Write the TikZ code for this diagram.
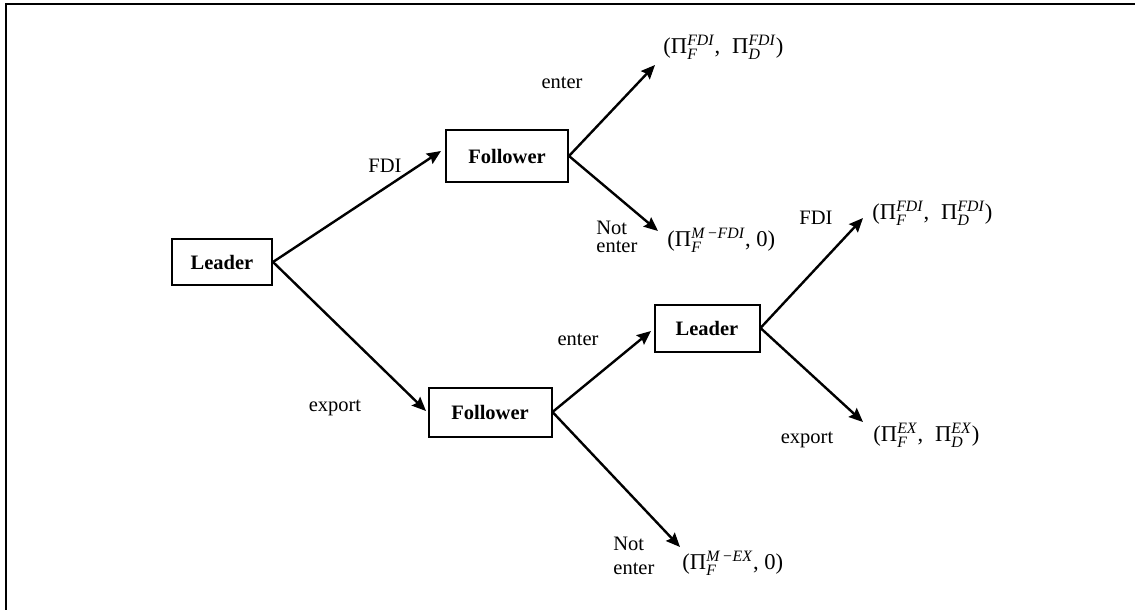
\documentclass[tikz,border=0pt]{standalone}
\usepackage{fontspec}
\usepackage{amsmath}
\setmainfont{Liberation Serif}
\usetikzlibrary{arrows.meta}
\newcommand{\PIsup}[2]{Π\ensuremath{^{\text{\itshape #1}}_{\text{\itshape #2}}}}
\begin{document}
\begin{tikzpicture}[x=0.5pt,y=-0.5pt,
  font=\fontsize{10.25}{12.3}\selectfont,
  player/.style={draw, line width=1pt, inner sep=0pt, font=\fontsize{10.25}{12.3}\selectfont\bfseries},
  move/.style={line width=1.2pt, -{Stealth[length=7pt,width=6pt,inset=1pt]}},
  lbl/.style={inner sep=0pt},
  pay/.style={inner sep=0pt, anchor=west, font=\fontsize{11.3}{13}\selectfont}]
\useasboundingbox (0,0) rectangle (1135,610);
\draw[line width=1pt] (6,610) -- (6,4) -- (1135,4);

\node[player, minimum width=50pt, minimum height=23pt] (L1) at (222,262) {Leader};
\node[player, minimum width=61pt, minimum height=25.5pt] (F1) at (507,156) {Follower};
\node[player, minimum width=61.5pt, minimum height=24.5pt] (F2) at (490,412) {Follower};
\node[player, minimum width=52.5pt, minimum height=23.5pt] (L2) at (707,328) {Leader};

\coordinate (t1) at (441,151);
\coordinate (t2) at (426,411);
\coordinate (t3) at (655,65);
\coordinate (t4) at (658,231);
\coordinate (t5) at (651,331);
\coordinate (t6) at (680,547);
\coordinate (t7) at (863,218);
\coordinate (t8) at (863,422);

\draw[move] (L1.east) -- (t1);
\draw[move] (L1.east) -- (t2);
\draw[move] (F1.east) -- (t3);
\draw[move] (F1.east) -- (t4);
\draw[move] (F2.east) -- (t5);
\draw[move] (F2.east) -- (t6);
\draw[move] (L2.east) -- (t7);
\draw[move] (L2.east) -- (t8);

\node[lbl] (a1) at (385,166) {FDI};
\node[lbl] (a2) at (335,408) {export};
\node[lbl] (a3) at (562,83) {enter};
\node[lbl, anchor=west, align=left] (a4) at (596,237) {Not\\[-3.5pt]enter};
\node[lbl] (a5) at (578,340) {enter};
\node[lbl, anchor=west, align=left] (a6) at (613,556) {Not\\enter};
\node[lbl] (a7) at (816,218) {FDI};
\node[lbl] (a8) at (807,440) {export};

\node[pay] (p1) at (663,47) {(\PIsup{FDI}{F},\; \PIsup{FDI}{D})};
\node[pay] (p2) at (667,240) {(\PIsup{M\,−FDI}{F}, 0)};
\node[pay] (p3) at (872,213) {(\PIsup{FDI}{F},\; \PIsup{FDI}{D})};
\node[pay] (p4) at (873,435) {(\PIsup{EX}{F},\; \PIsup{EX}{D})};
\node[pay] (p5) at (682,563) {(\PIsup{M\,−EX}{F}, 0)};
\end{tikzpicture}
\end{document}
